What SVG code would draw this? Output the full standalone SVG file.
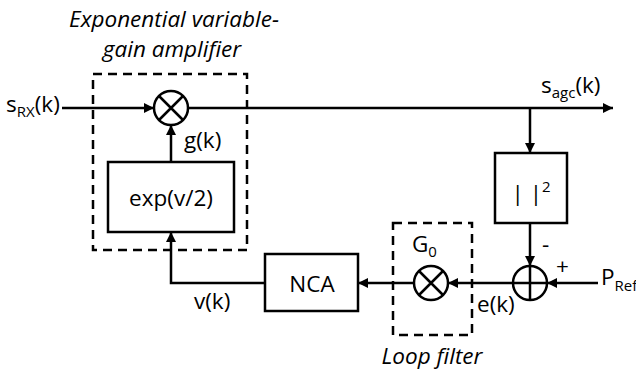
<svg xmlns="http://www.w3.org/2000/svg" width="636" height="371" viewBox="0 0 636 371">
<defs>
<marker id="ah" viewBox="0 0 10 10" refX="10" refY="5" markerWidth="4" markerHeight="4" orient="auto" markerUnits="strokeWidth">
<path d="M0,0 L10,5 L0,10 z" fill="#000"/>
</marker>
<style>
.ln{fill:none;stroke:#000;stroke-width:2.5}
.ar{fill:none;stroke:#000;stroke-width:2.5;marker-end:url(#ah)}
.dash{fill:none;stroke:#000;stroke-width:2.5;stroke-dasharray:9 6}
.box{fill:#fff;stroke:#000;stroke-width:2.5}
text{font-family:"Open Sans","Liberation Sans",sans-serif;font-size:22.5px;fill:#000}
.it{font-style:italic}
.sub{font-size:15px}
</style>
</defs>
<rect width="636" height="371" fill="#fff"/>
<g id="labels">
<text class="it" x="174" y="27" text-anchor="middle">Exponential variable-</text>
<text class="it" x="172" y="57" text-anchor="middle">gain amplifier</text>
<text class="it" x="432" y="364" text-anchor="middle">Loop filter</text>
<text x="6" y="112">s<tspan class="sub" dy="5">RX</tspan><tspan dy="-5">(k)</tspan></text>
<text x="541" y="93">s<tspan class="sub" dy="5">agc</tspan><tspan dy="-5">(k)</tspan></text>
<text x="601" y="285">P<tspan class="sub" dy="6">Ref</tspan></text>
<text x="184" y="148">g(k)</text>
<text x="194" y="309">v(k)</text>
<text x="477" y="312">e(k)</text>
<text x="542" y="252">-</text>
<text x="556" y="274">+</text>
</g>
<g id="vga-box"><rect class="dash" x="93" y="74" width="154" height="176"/></g>
<g id="loop-filter-box"><rect class="dash" x="393" y="223" width="79" height="112"/></g>
<g id="connectors">
<line class="ar" x1="62" y1="108" x2="154" y2="108"/>
<line class="ar" x1="188" y1="108" x2="613" y2="108"/>
<line class="ar" x1="171" y1="162" x2="171" y2="125"/>
<line class="ar" x1="530" y1="108" x2="530" y2="153"/>
<line class="ar" x1="530" y1="223" x2="530" y2="266"/>
<line class="ar" x1="598" y1="283" x2="547" y2="283"/>
<line class="ar" x1="513" y1="283" x2="448" y2="283"/>
<line class="ar" x1="414" y1="283" x2="358" y2="283"/>
<polyline class="ar" points="265,283 171,283 171,232"/>
</g>
<g id="mult-top"><circle class="box" cx="171" cy="108" r="17"/><path class="ln" d="M159,96 L183,120 M183,96 L159,120"/></g>
<g id="exp-block"><rect class="box" x="108" y="162" width="126" height="70"/><text x="171" y="206" text-anchor="middle">exp(v/2)</text></g>
<g id="abs-sq"><rect class="box" x="495" y="153" width="72" height="70"/><text x="531" y="201" text-anchor="middle">| |<tspan class="sub" dy="-9">2</tspan></text></g>
<g id="sum"><circle class="box" cx="530" cy="283" r="17"/><path class="ln" d="M513,283 L547,283 M530,266 L530,300"/></g>
<g id="g0-mult"><circle class="box" cx="431" cy="283" r="17"/><path class="ln" d="M419,271 L443,295 M443,271 L419,295"/><text x="412" y="252">G<tspan class="sub" dy="5">0</tspan></text></g>
<g id="nca"><rect class="box" x="265" y="254" width="93" height="57"/><text x="312" y="292" text-anchor="middle">NCA</text></g>
</svg>
